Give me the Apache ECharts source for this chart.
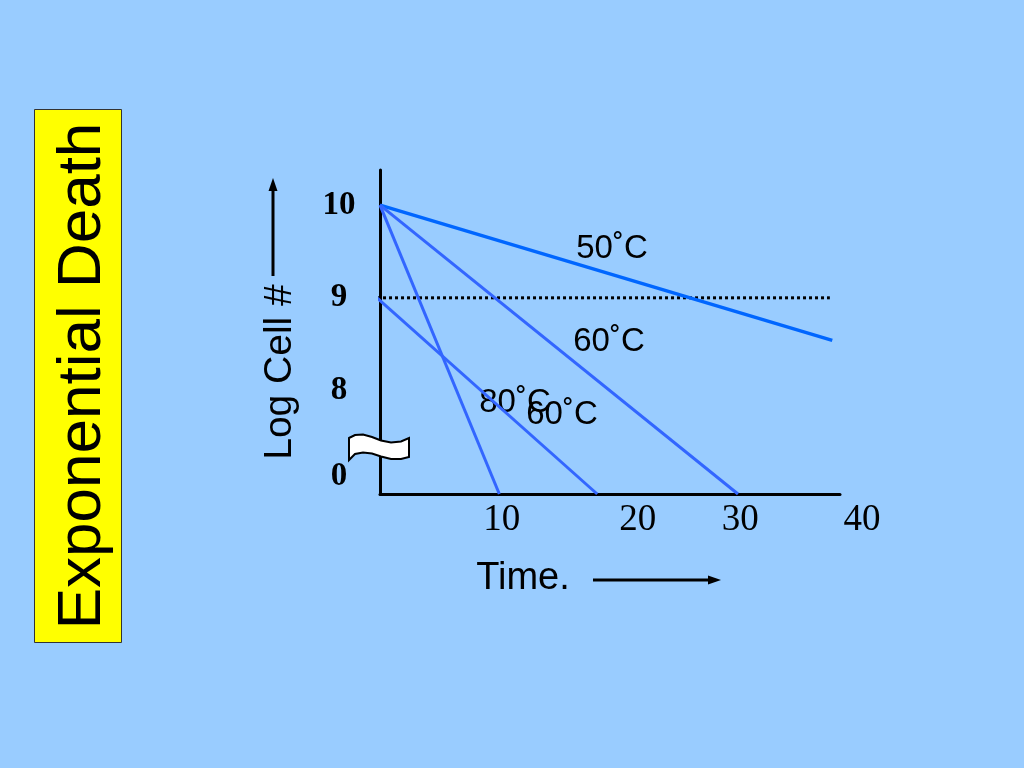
<!DOCTYPE html>
<html>
<head>
<meta charset="utf-8">
<script src="https://cdn.jsdelivr.net/npm/echarts@6.0.0/dist/echarts.min.js"></script>
<style>
html,body{margin:0;padding:0;background:#99CCFF;}
#chart{width:1024px;height:768px;}
</style>
</head>
<body>
<div id="chart"></div>
<script>
// ---- data (time, log cell number) ----
const line50C  = [[0, 10], [37.9, 8.54]];
const line60C  = [[0, 10], [30, 0]];
const line80C  = [[0, 10], [10, 0]];
const line60Cb = [[-0.25, 9], [18.2, 0]];
const refLine9 = [[-0.25, 9], [37.7, 9]];
const xTickLabels = ['10', '20', '30', '40'];
const yTickValues = [0, 8, 9, 10];
const seriesLabels = ['50˚C', '60˚C', '80˚C', '60˚C'];

// broken y axis: the range between BREAK_LO and BREAK_HI is squeezed
const BREAK_LO = 0.4, BREAK_HI = 7.5, AXIS_BOTTOM = 6.882, BREAK_GAP = 0.218;
function brokenY(v) {
  if (v >= BREAK_HI) return v;
  if (v <= BREAK_LO) return AXIS_BOTTOM + v;
  return AXIS_BOTTOM + BREAK_LO + (v - BREAK_LO) * BREAK_GAP / (BREAK_HI - BREAK_LO);
}
function toAxis(data) { return data.map(p => [p[0], brokenY(p[1])]); }

const xLabelAt = [10.2, 21.6, 30.2, 38.55];
const yLabelAt = [brokenY(0.19), 8, 9, 10];

const chart = echarts.init(document.getElementById('chart'));
const SANS = '"Liberation Sans", Arial, sans-serif';
const SERIF = '"Liberation Serif", "Times New Roman", serif';

function nearestIndex(arr, v) {
  let best = 0;
  for (let i = 1; i < arr.length; i++) if (Math.abs(arr[i] - v) < Math.abs(arr[best] - v)) best = i;
  return Math.abs(arr[best] - v) < 1e-6 ? best : -1;
}

function lineSeries(name, data, color, width, type) {
  return {
    type: 'line', name: name, data: toAxis(data), symbol: 'none', clip: false,
    lineStyle: { color: color, width: width, type: type || 'solid' },
    silent: true, animation: false
  };
}

chart.setOption({
  backgroundColor: '#99CCFF',
  animation: false,
  grid: { left: 380, right: 184, top: 170, bottom: 274, containLabel: false },
  xAxis: {
    type: 'value', min: 0, max: 38.55,
    axisLine: { show: true, lineStyle: { color: '#000', width: 3 } },
    axisTick: { show: false },
    splitLine: { show: false },
    axisLabel: {
      customValues: xLabelAt,
      margin: 8,
      color: '#000',
      fontFamily: SERIF,
      fontSize: 37,
      formatter: function (v) {
        const i = nearestIndex(xLabelAt, v);
        const t = i >= 0 ? xTickLabels[i] : '';
        return i === xLabelAt.length - 1 ? '{far|' + t + '}' : t;
      },
      rich: { far: { fontFamily: SERIF, fontSize: 37, color: '#000', padding: [0, 0, 0, 44] } }
    }
  },
  yAxis: {
    type: 'value', min: AXIS_BOTTOM, max: 10.38,
    axisLine: { show: true, lineStyle: { color: '#000', width: 3 } },
    axisTick: { show: false },
    splitLine: { show: false },
    axisLabel: {
      customValues: yLabelAt,
      margin: 41,
      align: 'center',
      color: '#000',
      fontFamily: SERIF,
      fontWeight: 'bold',
      fontSize: 33,
      padding: [0, 0, 14, 0],
      formatter: function (v) {
        const i = nearestIndex(yLabelAt, v);
        return i >= 0 ? String(yTickValues[i]) : '';
      }
    }
  },
  series: [
    lineSeries('ref', refLine9, '#000', 3, [3, 3]),
    lineSeries('50C', line50C, '#0066FF', 3.5),
    lineSeries('60C', line60C, '#3366FF', 3),
    lineSeries('80C', line80C, '#3366FF', 3),
    lineSeries('60Cb', line60Cb, '#3366FF', 3)
  ],
  graphic: [
    { type: 'rect', shape: { x: 34.5, y: 109.5, width: 87, height: 533 },
      style: { fill: '#FFFF00', stroke: '#333', lineWidth: 1 } },
    { type: 'text', x: 83, y: 376, rotation: Math.PI / 2,
      style: { text: 'Exponential Death', font: '62px ' + SANS, fill: '#000', align: 'center', verticalAlign: 'middle' } },
    { type: 'text', x: 280, y: 372, rotation: Math.PI / 2,
      style: { text: 'Log Cell #', font: '39px ' + SANS, fill: '#000', align: 'center', verticalAlign: 'middle' } },
    { type: 'line', shape: { x1: 273, y1: 276, x2: 273, y2: 188 }, style: { stroke: '#000', lineWidth: 3 } },
    { type: 'polygon', shape: { points: [[273, 178], [268.5, 191], [277.5, 191]] }, style: { fill: '#000' } },
    { type: 'text', x: 523, y: 579,
      style: { text: 'Time.', font: '38px ' + SANS, fill: '#000', align: 'center', verticalAlign: 'middle' } },
    { type: 'line', shape: { x1: 593, y1: 580, x2: 710, y2: 580 }, style: { stroke: '#000', lineWidth: 3 } },
    { type: 'polygon', shape: { points: [[721, 580], [708, 575.5], [708, 584.5]] }, style: { fill: '#000' } },
    { type: 'text', x: 612, y: 249,
      style: { text: seriesLabels[0], font: '33px ' + SANS, fill: '#000', align: 'center', verticalAlign: 'middle' } },
    { type: 'text', x: 609, y: 342,
      style: { text: seriesLabels[1], font: '33px ' + SANS, fill: '#000', align: 'center', verticalAlign: 'middle' } },
    { type: 'text', x: 515, y: 403,
      style: { text: seriesLabels[2], font: '33px ' + SANS, fill: '#000', align: 'center', verticalAlign: 'middle' } },
    { type: 'text', x: 562, y: 415,
      style: { text: seriesLabels[3], font: '33px ' + SANS, fill: '#000', align: 'center', verticalAlign: 'middle' } },
    { type: 'polygon', z: 100,
      shape: { points: [
        [349, 438], [355, 435], [363, 434.5], [372, 437], [381, 440.5], [391, 442.5], [401, 441.5], [409, 438],
        [409, 457], [401, 459], [391, 459], [381, 456.5], [372, 453.5], [363, 452.5], [355, 454], [349, 460]
      ] },
      style: { fill: '#FFFFFF', stroke: '#000', lineWidth: 2 } }
  ]
});
</script>
</body>
</html>
